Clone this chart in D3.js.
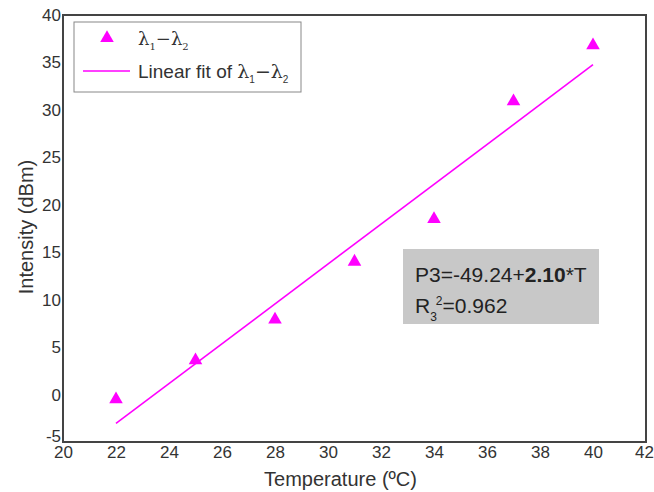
<!DOCTYPE html>
<html>
<head>
<meta charset="utf-8">
<script src="https://cdn.jsdelivr.net/npm/d3@7"></script>
<style>
  body { margin: 0; background: #fff; }
  svg text { font-family: Arial, "Liberation Sans", sans-serif; }
</style>
</head>
<body>
<div id="chart"></div>
<script>
// data
var temps = [22, 25, 28, 31, 34, 37, 40];
var intensity = [-0.5, 3.6, 7.9, 14.0, 18.5, 30.9, 36.8];
var fitX = [22, 40];
var fitY = [-3.04, 34.76];
var xTicks = [20, 22, 24, 26, 28, 30, 32, 34, 36, 38, 40, 42];
var yTicks = [-5, 0, 5, 10, 15, 20, 25, 30, 35, 40];

var W = 654, H = 492;
var margin = {top: 15, right: 8, bottom: 50, left: 63};
var width = W - margin.left - margin.right;
var height = H - margin.top - margin.bottom;
var pink = "#ff00ff";

var svg = d3.select("#chart").append("svg").attr("width", W).attr("height", H)
  .append("g").attr("transform", "translate(" + margin.left + "," + margin.top + ")");

var x = d3.scaleLinear().domain([20, 42]).range([0, width]);
var y = d3.scaleLinear().domain([-5, 40]).range([height, 0]);

// axes
var xa = svg.append("g").attr("transform", "translate(0," + height + ")")
  .call(d3.axisBottom(x).tickValues(xTicks).tickFormat(String).tickSize(0).tickPadding(4));
var ya = svg.append("g")
  .call(d3.axisLeft(y).tickValues(yTicks).tickFormat(String).tickSize(0).tickPadding(2));
[xa, ya].forEach(function(a){
  a.select(".domain").remove();
  a.selectAll("text").attr("fill", "#333").style("font-size", "17px");
});
// keep the corner labels apart and inside the page
ya.selectAll("text").filter(function(d){ return d === -5; }).attr("dy", "-0.05em");
xa.selectAll("text").filter(function(d){ return d === 42; }).attr("dx", -2);

svg.append("rect").attr("width", width).attr("height", height)
  .attr("fill", "none").attr("stroke", "#444").attr("stroke-width", 2);

// labels
svg.append("text").attr("x", width / 2 - 14).attr("y", height + 44)
  .attr("text-anchor", "middle").attr("fill", "#333").style("font-size", "20px")
  .text("Temperature (ºC)");
svg.append("text").attr("transform", "rotate(-90)")
  .attr("x", -212).attr("y", -30)
  .attr("text-anchor", "middle").attr("fill", "#333").style("font-size", "20px")
  .text("Intensity (dBm)");

// fit line
var fitData = fitX.map(function(d, i){ return [d, fitY[i]]; });
svg.append("path").datum(fitData)
  .attr("d", d3.line().x(function(d){ return x(d[0]); }).y(function(d){ return y(d[1]); }))
  .attr("stroke", pink).attr("stroke-width", 1.6).attr("fill", "none");

// points
var tri = d3.symbol().type(d3.symbolTriangle).size(80);
svg.selectAll(".pt").data(temps).enter().append("path")
  .attr("class", "pt").attr("d", tri)
  .attr("transform", function(d, i){ return "translate(" + x(d) + "," + y(intensity[i]) + ")"; })
  .attr("fill", pink);

// legend
var lg = svg.append("g").attr("transform", "translate(11,7)");
lg.append("rect").attr("width", 227).attr("height", 70)
  .attr("fill", "#fff").attr("stroke", "#888").attr("stroke-width", 1);
lg.append("path").attr("d", tri).attr("fill", pink).attr("transform", "translate(33,16)");
var t1 = lg.append("text").attr("x", 64).attr("y", 23).attr("fill", "#333")
  .style("font-size", "18px").style("font-family", "'DejaVu Serif', serif");
t1.append("tspan").text("λ");
t1.append("tspan").attr("dy", 5).style("font-size", "10px").text("1");
t1.append("tspan").attr("dy", -5).text("−λ");
t1.append("tspan").attr("dy", 5).style("font-size", "10px").text("2");
lg.append("line").attr("x1", 9).attr("x2", 56).attr("y1", 49).attr("y2", 49)
  .attr("stroke", pink).attr("stroke-width", 1.6);
var t2 = lg.append("text").attr("x", 64).attr("y", 56).attr("fill", "#333")
  .style("font-size", "19px");
t2.append("tspan").text("Linear fit of ");
t2.append("tspan").style("font-family", "'DejaVu Serif', serif").text("λ");
t2.append("tspan").attr("dy", 5).style("font-size", "10px").text("1");
t2.append("tspan").attr("dy", -5).style("font-family", "'DejaVu Serif', serif").text("−λ");
t2.append("tspan").attr("dy", 5).style("font-size", "10px").text("2");

// fit result box
var bx = svg.append("g").attr("transform", "translate(340,234)");
bx.append("rect").attr("width", 196).attr("height", 75).attr("fill", "#c8c8c8");
var e1 = bx.append("text").attr("x", 12).attr("y", 33).attr("fill", "#222").style("font-size", "21px");
e1.append("tspan").text("P3=-49.24+");
e1.append("tspan").style("font-weight", "bold").text("2.10");
e1.append("tspan").text("*T");
var e2 = bx.append("text").attr("x", 12).attr("y", 64).attr("fill", "#222").style("font-size", "21px");
e2.append("tspan").text("R");
e2.append("tspan").attr("dy", 8).style("font-size", "12px").text("3");
e2.append("tspan").attr("dy", -16).attr("dx", -1).style("font-size", "12px").text("2");
e2.append("tspan").attr("dy", 8).text("=0.962");
</script>
</body>
</html>
